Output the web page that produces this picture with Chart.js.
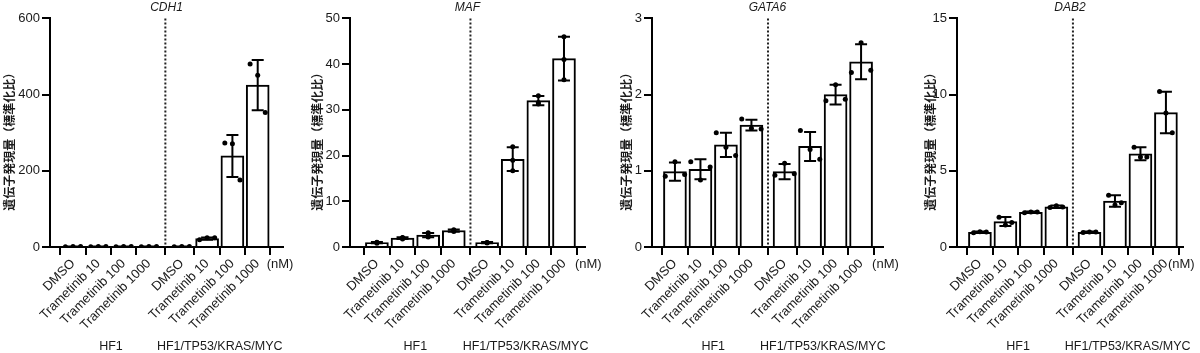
<!DOCTYPE html>
<html><head><meta charset="utf-8">
<script src="https://cdn.jsdelivr.net/npm/chart.js@4/dist/chart.umd.min.js"></script>
<style>
html,body{margin:0;padding:0;background:#fff;}
#wrap{position:relative;width:1200px;height:353px;overflow:hidden;background:#fff;}
#wrap canvas{position:absolute;top:0;}
</style></head><body><div id="wrap"></div>
<script>
// ---------- data ----------
const categories = ['DMSO','Trametinib 10','Trametinib 100','Trametinib 1000','DMSO','Trametinib 10','Trametinib 100','Trametinib 1000'];
const groupLabels = ['HF1','HF1/TP53/KRAS/MYC'];
const unitLabel = '(nM)';
const yAxisTitle = '遺伝子発現量（標準化比）';
const geneNames = ['CDH1','MAF','GATA6','DAB2'];

const cdh1Mean = [1.0, 1.0, 1.0, 1.0, 1.0, 22, 239, 425];
const cdh1Sd   = [0.1, 0.2, 0.3, 0.15, 0.1, 2.9, 55, 66];
const cdh1Reps = [[0.9,1.0,1.1],[0.8,1.1,1.2],[0.7,1.0,1.3],[0.9,1.2,1.0],[0.9,1.0,1.1],[19,24,24],[273,271,176],[480,451,353]];
const cdh1Ticks = [0,200,400,600];

const mafMean = [0.95, 1.95, 2.6, 3.6, 0.95, 19.2, 32.0, 41.2];
const mafSd   = [0.15, 0.2, 0.45, 0.25, 0.15, 2.6, 1.0, 4.8];
const mafReps = [[0.8,1.0,1.05],[1.75,2.1,2.0],[2.2,2.5,3.1],[3.4,3.8,3.6],[0.85,1.0,1.0],[21.9,19.0,16.7],[33.1,31.6,31.3],[46.0,41.0,36.6]];
const mafTicks = [0,10,20,30,40,50];

const gata6Mean = [0.99, 1.02, 1.34, 1.60, 0.99, 1.32, 2.00, 2.43];
const gata6Sd   = [0.12, 0.13, 0.16, 0.07, 0.10, 0.19, 0.13, 0.23];
const gata6Reps = [[0.93,1.12,0.95],[1.12,0.88,1.05],[1.50,1.31,1.20],[1.68,1.56,1.55],[0.94,1.10,0.96],[1.53,1.28,1.15],[1.92,2.13,1.94],[2.29,2.68,2.32]];
const gata6Ticks = [0,1,2,3];

const dab2Mean = [0.97, 1.67, 2.28, 2.64, 0.97, 3.02, 6.12, 8.82];
const dab2Sd   = [0.05, 0.30, 0.05, 0.08, 0.04, 0.38, 0.42, 1.36];
const dab2Reps = [[0.93,1.0,0.98],[1.95,1.45,1.6],[2.25,2.3,2.3],[2.6,2.7,2.62],[0.95,0.98,0.98],[3.4,2.75,2.9],[6.55,5.9,5.9],[10.2,8.8,7.5]];
const dab2Ticks = [0,5,10,15];

const allMeans = [cdh1Mean, mafMean, gata6Mean, dab2Mean];
const allSds = [cdh1Sd, mafSd, gata6Sd, dab2Sd];
const allReps = [cdh1Reps, mafReps, gata6Reps, dab2Reps];
const allTicks = [cdh1Ticks, mafTicks, gata6Ticks, dab2Ticks];

// ---------- layout / style ----------
const H = 353;
const canvasLeft = [0, 308, 617, 921];
const canvasWidth = [308, 309, 304, 279];
const axisLeft = [50, 350, 652, 957];
const axisRight = [283, 585, 883, 1183];
const axisBottom = 247;
const xMin = [-0.91, -1.05, -0.9, -0.9];
const xMax = [8.3, 8.12, 8.16, 7.97];
const nmOffset = [9, 11, 11, 2];
const jitterSpread = [0.3, 0, 0.38, 0.25];
const groupGap = 0.3;
const FONT = "'Liberation Sans', Arial, Helvetica, sans-serif";
const CJK = "'Noto Sans CJK JP', 'Noto Sans CJK SC', sans-serif";
const TXT = '#1a1a1a';

const positions = categories.map((c, i) => i + (i >= 4 ? groupGap : 0));

Chart.defaults.font.family = FONT;

const decor = {
  id: 'decor',
  afterDatasetsDraw(chart, args, opts) {
    const {ctx, chartArea} = chart;
    const xs = chart.scales.x, ys = chart.scales.y;
    const p = opts.panel;
    const m = allMeans[p], s = allSds[p];
    ctx.save();
    ctx.strokeStyle = '#000';
    ctx.lineWidth = 2;
    for (let i = 0; i < m.length; i++) {
      const x = xs.getPixelForValue(positions[i]);
      const yt = ys.getPixelForValue(m[i] + s[i]);
      const yb = ys.getPixelForValue(Math.max(m[i] - s[i], 0));
      ctx.beginPath();
      ctx.moveTo(x, yt); ctx.lineTo(x, yb);
      ctx.moveTo(x - 6, yt); ctx.lineTo(x + 6, yt);
      ctx.moveTo(x - 6, yb); ctx.lineTo(x + 6, yb);
      ctx.stroke();
    }
    const xd = xs.getPixelForValue((positions[3] + positions[4]) / 2);
    ctx.strokeStyle = '#222';
    ctx.lineWidth = 2;
    ctx.setLineDash([2, 2]);
    ctx.beginPath();
    ctx.moveTo(xd, chartArea.top); ctx.lineTo(xd, chartArea.bottom);
    ctx.stroke();
    ctx.setLineDash([]);
    ctx.restore();
  },
  afterDraw(chart, args, opts) {
    const {ctx, chartArea} = chart;
    const xs = chart.scales.x;
    const p = opts.panel;
    ctx.save();
    ctx.fillStyle = TXT;
    ctx.save();
    ctx.translate(9, (chartArea.top + chartArea.bottom) / 2 + 6);
    ctx.rotate(-Math.PI / 2);
    ctx.font = 'bold 12px ' + CJK;
    ctx.textAlign = 'center';
    ctx.textBaseline = 'middle';
    ctx.fillText(yAxisTitle, 0, 0);
    ctx.restore();
    ctx.font = '13px ' + FONT;
    ctx.textAlign = 'left';
    ctx.textBaseline = 'middle';
    ctx.fillText(unitLabel, xs.getPixelForValue(positions[7]) + nmOffset[p], 264);
    ctx.font = '12.5px ' + FONT;
    ctx.textAlign = 'center';
    const g1 = (xs.getPixelForValue(positions[0]) + xs.getPixelForValue(positions[3])) / 2;
    const g2 = (xs.getPixelForValue(positions[4]) + xs.getPixelForValue(positions[7])) / 2;
    ctx.fillText(groupLabels[0], g1, 347);
    ctx.fillText(groupLabels[1], g2, 347);
    ctx.restore();
  }
};

const wrap = document.getElementById('wrap');
for (let p = 0; p < 4; p++) {
  const cv = document.createElement('canvas');
  cv.width = canvasWidth[p]; cv.height = H;
  cv.style.width = canvasWidth[p] + 'px'; cv.style.height = H + 'px';
  cv.style.left = canvasLeft[p] + 'px';
  wrap.appendChild(cv);
  const ticks = allTicks[p];
  const jitter = [-jitterSpread[p], 0, jitterSpread[p]];
  const barData = positions.map((x, i) => ({x, y: allMeans[p][i]}));
  const dotData = [];
  allReps[p].forEach((r, i) => r.forEach((v, k) => dotData.push({x: positions[i] + jitter[k], y: v})));
  new Chart(cv.getContext('2d'), {
    type: 'bar',
    data: {datasets: [
      {type: 'bar', data: barData, backgroundColor: '#fff', borderColor: '#000', borderWidth: 2, barThickness: 23, order: 2},
      {type: 'scatter', data: dotData, pointRadius: 2.5, pointBackgroundColor: '#000', pointBorderWidth: 0, order: 1}
    ]},
    options: {
      responsive: false, animation: false, devicePixelRatio: 1,
      layout: {padding: {left: 0, top: 0, bottom: 0, right: canvasLeft[p] + canvasWidth[p] - axisRight[p]}},
      plugins: {
        legend: {display: false}, tooltip: {enabled: false},
        title: {display: true, text: geneNames[p], fullSize: false, color: TXT,
                font: {size: 12, style: 'italic', family: FONT, weight: 'normal', lineHeight: 1.2}, padding: {top: 0, bottom: 4}},
        decor: {panel: p}
      },
      scales: {
        x: {
          type: 'linear', min: xMin[p], max: xMax[p], offset: false,
          afterBuildTicks: s => { s.ticks = positions.map(v => ({value: v})); },
          afterCalculateLabelRotation: s => { s.labelRotation = 45; },
          afterFit: s => { s.height = H - axisBottom; },
          ticks: {autoSkip: false, maxRotation: 45, minRotation: 45, padding: 1, color: TXT,
                  font: {size: 13, family: FONT}, callback: (v, i) => categories[i]},
          grid: {drawOnChartArea: false, drawTicks: true, tickLength: 8, color: '#000', lineWidth: 2},
          border: {display: true, color: '#000', width: 2}
        },
        y: {
          min: ticks[0], max: ticks[ticks.length - 1],
          afterBuildTicks: s => { s.ticks = ticks.map(v => ({value: v})); },
          afterFit: s => { s.width = axisLeft[p] - canvasLeft[p]; },
          ticks: {padding: 2, color: TXT, font: {size: 13, family: FONT}},
          grid: {drawOnChartArea: false, drawTicks: true, tickLength: 8, color: '#000', lineWidth: 2},
          border: {display: true, color: '#000', width: 2},
          title: {display: false}
        }
      }
    },
    plugins: [decor]
  });
}
</script></body></html>
